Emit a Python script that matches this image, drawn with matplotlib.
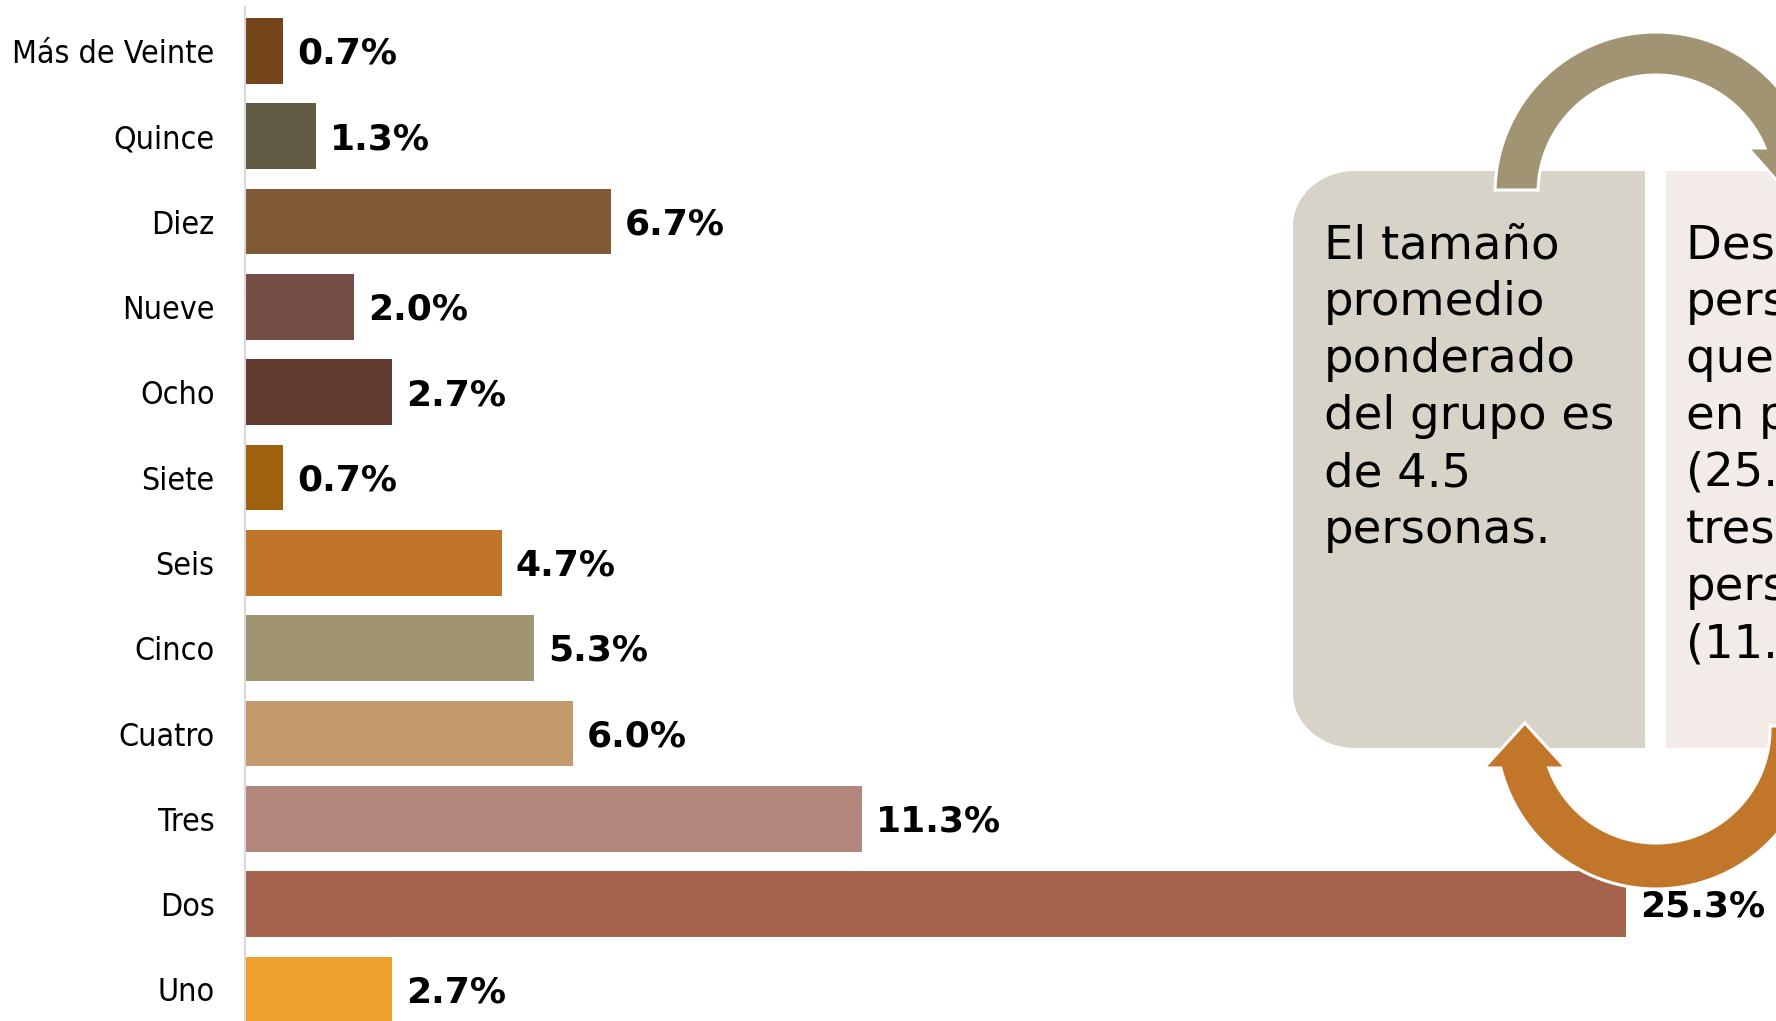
import numpy as np
import matplotlib
matplotlib.use("Agg")
import matplotlib.pyplot as plt
from matplotlib import font_manager
from matplotlib.patches import Polygon

# Datos del grafico
categorias = ["Más de Veinte", "Quince", "Diez", "Nueve", "Ocho", "Siete",
              "Seis", "Cinco", "Cuatro", "Tres", "Dos", "Uno"]
porcentajes = [0.7, 1.3, 6.7, 2.0, 2.7, 0.7, 4.7, 5.3, 6.0, 11.3, 25.3, 2.7]
colores = ["#74451B", "#635A43", "#805A36", "#744E44", "#613A30", "#9E610E",
           "#C0752A", "#A19472", "#C4996D", "#B3877C", "#A5634E", "#EEA12F"]

texto_caja1 = ["El tamaño", "promedio", "ponderado", "del grupo es",
               "de 4.5", "personas."]
texto_caja2 = ["Destacan las", "personas", "que viajan", "en pareja",
               "(25.3%) y de", "tres", "personas", "(11.3%)."]

W, H = 1776, 1021


def fuente_etiquetas():
    # busca una variante condensada para las etiquetas de categoria
    for f in font_manager.fontManager.ttflist:
        nombre = f.fname.lower()
        if ("dejavusanscondensed" in nombre and "bold" not in nombre
                and "oblique" not in nombre):
            return font_manager.FontProperties(fname=f.fname, size=23)
    nombres = {f.name for f in font_manager.fontManager.ttflist}
    if "Liberation Sans Narrow" in nombres:
        return font_manager.FontProperties(family="Liberation Sans Narrow", size=25)
    return font_manager.FontProperties(family="DejaVu Sans", size=20)


fig = plt.figure(figsize=(W / 100, H / 100), dpi=100)

#%% barras
x0_eje = 245
ax = fig.add_axes([x0_eje / W, 0, 1 - x0_eje / W, (H - 7) / H])
y = np.arange(len(categorias))
ax.barh(y, porcentajes, height=0.77, color=colores)
ax.set_xlim(0, (W - x0_eje) / 54.6)
ax.set_ylim(11.37, -0.516)

ax.set_yticks(y)
ax.set_yticklabels(categorias, fontproperties=fuente_etiquetas())
ax.tick_params(axis="y", length=0, pad=22)
ax.set_xticks([])
for lado in ["top", "right", "bottom"]:
    ax.spines[lado].set_visible(False)
ax.spines["left"].set_color("#D9D9D9")
ax.spines["left"].set_linewidth(1.5)

for i, v in enumerate(porcentajes):
    ax.annotate(f"{v:.1f}%", xy=(v, i), xytext=(10, -2), textcoords="offset points",
                ha="left", va="center", fontsize=26, fontweight="bold", color="black")

#%% diagrama ciclico a la derecha
ax2 = fig.add_axes([0, 0, 1, 1])
ax2.set_xlim(0, W)
ax2.set_ylim(H, 0)
ax2.axis("off")
ax2.set_facecolor("none")


def caja(x0, x1, y0, y1, rx, ry, redondeo_izq, color):
    fi = np.linspace(0, np.pi / 2, 20)
    if redondeo_izq:
        pts = [(x1, y0), (x1, y1)]
        cx, cy = x0 + rx, y1 - ry
        pts += [(cx - rx * np.sin(f), cy + ry * np.cos(f)) for f in fi]
        cx, cy = x0 + rx, y0 + ry
        pts += [(cx - rx * np.cos(f), cy - ry * np.sin(f)) for f in fi]
    else:
        pts = [(x0, y1), (x0, y0)]
        cx, cy = x1 - rx, y0 + ry
        pts += [(cx + rx * np.sin(f), cy - ry * np.cos(f)) for f in fi]
        cx, cy = x1 - rx, y1 - ry
        pts += [(cx + rx * np.cos(f), cy + ry * np.sin(f)) for f in fi]
    ax2.add_patch(Polygon(pts, closed=True, facecolor=color, edgecolor="none", zorder=1))


def flecha_arco(cx, cy, r, t, y_ini, y_fin, arriba, color, largo=45, barba=17):
    # arco circular en sentido horario con corte horizontal en ambos extremos
    # arriba=True: va de la izquierda por arriba hasta la derecha (punta hacia abajo)
    # arriba=False: va de la derecha por abajo hasta la izquierda (punta hacia arriba)
    def angulos(rr):
        s0 = np.clip((cy - y_ini) / rr, -1, 1)
        s1 = np.clip((cy - y_fin) / rr, -1, 1)
        if arriba:
            return np.pi - np.arcsin(s0), np.arcsin(s1)
        return np.arcsin(s0), -np.pi - np.arcsin(s1)

    ri = r - t
    a0, a1 = angulos(r)
    b0, b1 = angulos(ri)
    th_out = np.linspace(a0, a1, 150)
    th_in = np.linspace(b1, b0, 150)
    pts = [(cx + r * np.cos(th), cy - r * np.sin(th)) for th in th_out]
    x_out = cx + r * np.cos(a1)
    x_in = cx + ri * np.cos(b1)
    signo = 1 if arriba else -1
    pts.append((x_out + signo * barba, y_fin))
    pts.append(((x_out + x_in) / 2, y_fin + signo * largo))
    pts.append((x_in - signo * barba, y_fin))
    pts += [(cx + ri * np.cos(th), cy - ri * np.sin(th)) for th in th_in]
    ax2.add_patch(Polygon(pts, closed=True, facecolor=color, edgecolor="white",
                          linewidth=2.2, joinstyle="miter", zorder=3))


caja(1293, 1645, 171, 748, 62, 55, True, "#D7D3C8")
caja(1666, 2018, 171, 748, 62, 55, False, "#F3EBE8")

flecha_arco(1656, 193, 161, 43, 190, 148, True, "#A19472")
flecha_arco(1656, 729, 160, 46, 726, 768, False, "#C1762A")

for k, linea in enumerate(texto_caja1):
    ax2.text(1324, 258 + 57 * k, linea, fontsize=33.5, color="black",
             ha="left", va="baseline", zorder=4)
for k, linea in enumerate(texto_caja2):
    ax2.text(1686, 258 + 57 * k, linea, fontsize=33.5, color="black",
             ha="left", va="baseline", zorder=4)

fig.savefig("out.png", dpi=100)
